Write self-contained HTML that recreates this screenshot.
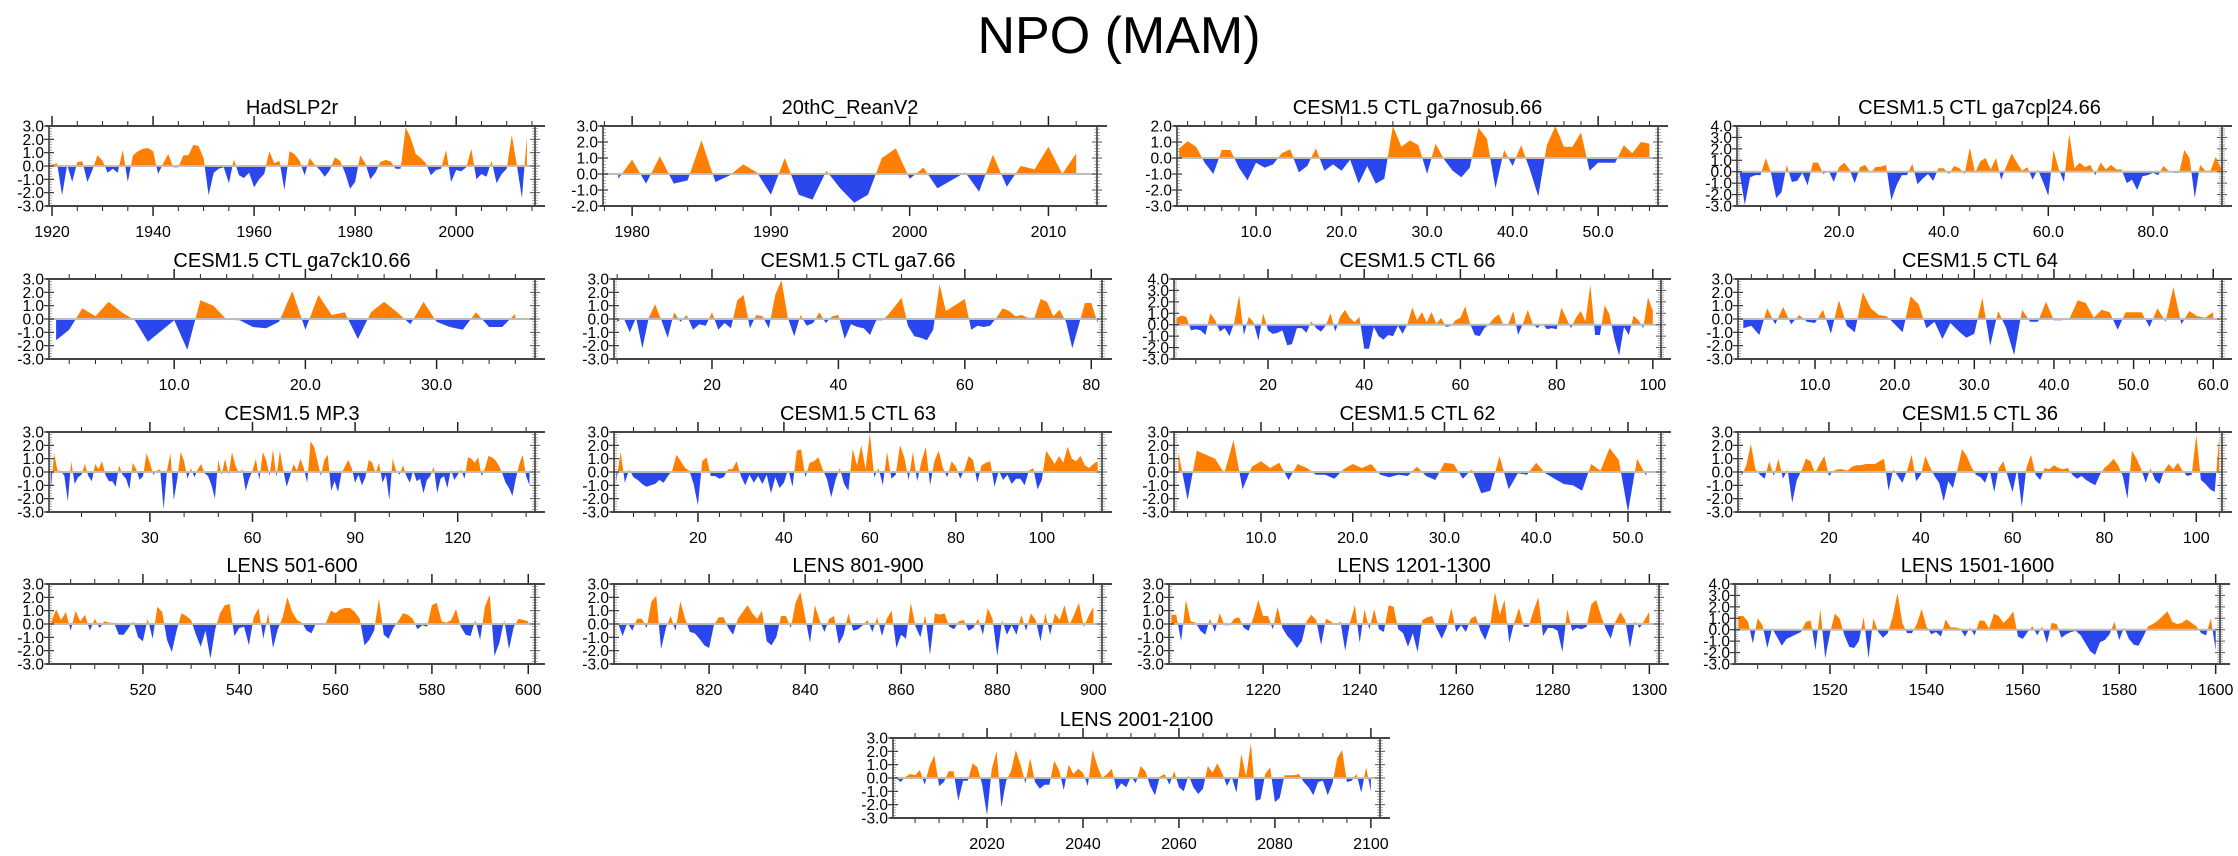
<!DOCTYPE html>
<html><head><meta charset="utf-8"><title>NPO (MAM)</title>
<style>
html,body{margin:0;padding:0;background:#fff;}
svg{display:block;font-family:"Liberation Sans",Arial,sans-serif;}
</style></head>
<body>
<svg id="fig" width="2238" height="856" viewBox="0 0 2238 856" xmlns="http://www.w3.org/2000/svg">
<text x="1119" y="53" text-anchor="middle" font-size="52" fill="#000">NPO (MAM)</text>
</svg>
<script>
// ---- data arrays (one per panel) ----
const hadslp2r = [0.1,0.2,-2.2,0.1,-1.2,0.3,0.35,-1.2,-0.3,0.8,0.4,-0.5,-0.2,-0.5,1.2,-1.2,0.8,1.1,1.3,1.35,1.1,-0.6,0.2,0.9,-0.1,-0.1,0.8,0.8,1.6,1.5,0.6,-2.2,-0.5,-0.2,-0.1,-1.3,0.5,-0.7,-0.9,-0.5,-1.6,-1.0,-0.6,1.1,0.2,0.4,-1.8,1.1,0.9,0.4,-0.7,0.6,0.1,-0.3,-0.8,-0.3,0.65,0.4,-0.5,-1.7,-1.2,0.8,0.2,-1.0,-0.5,0.3,0.45,0.35,-0.2,-0.2,2.9,2.1,0.9,0.6,0.2,-0.7,-0.3,-0.2,1.2,-1.2,-0.3,-0.4,-0.1,1.3,-1.0,-0.6,-0.8,0.4,-1.3,-0.6,-0.2,2.3,0.1,-2.4,2.2];
const reanv2 = [-0.3,0.9,-0.6,1.1,-0.6,-0.4,2.1,-0.5,-0.1,0.6,0.1,-1.3,1.0,-1.3,-1.6,0.2,-0.9,-1.8,-1.3,1.0,1.6,-0.3,0.4,-0.9,-0.4,0.1,-1.1,1.2,-0.8,0.5,0.3,1.7,0.0,1.3];
const ga7nosub = [0.6,1.05,0.7,-0.3,-1.0,0.5,0.5,-0.6,-1.4,-0.3,-0.6,-0.4,0.3,0.55,-0.9,-0.5,0.6,-0.8,-0.4,-0.8,-0.1,-1.6,-0.5,-1.6,-1.3,2.0,0.7,1.1,0.8,-1.0,0.9,-0.1,-0.8,-1.2,-0.6,1.9,1.2,-1.9,0.5,-0.5,0.8,-0.7,-2.4,0.8,2.0,0.7,0.7,1.6,-0.8,-0.3,-0.3,-0.3,0.8,0.3,1.0,0.9];
const ga7cpl24 = [-0.1,-2.9,-0.5,-0.3,-0.3,1.2,-0.1,-2.3,-1.8,0.6,-0.9,-0.8,-0.1,-1.2,0.8,0.8,-0.2,0.1,-0.9,0.4,0.8,0.2,-1.0,0.4,0.6,-0.1,0.4,0.45,0.6,-2.5,-1.2,-0.3,-0.3,0.7,-1.1,-0.6,-0.2,-0.8,0.3,0.3,-0.2,0.5,0.3,-0.2,2.1,-0.1,0.9,1.2,0.2,1.2,-0.7,0.5,1.6,0.8,0.1,0.4,-0.7,0.2,-0.9,-2.1,1.9,0.2,-0.9,3.3,0.3,0.8,0.4,0.6,-0.3,0.8,0.2,0.6,0.2,0.2,-1.0,-0.7,-1.6,-0.4,-0.3,-0.1,-0.3,0.5,0.1,-0.1,-0.1,1.9,1.2,-2.3,0.6,0.1,0.1,1.3,0.3];
const ga7ck10 = [-1.6,-0.8,0.8,0.2,1.3,0.5,-0.1,-1.7,-0.9,-0.1,-2.3,1.4,1.0,-0.05,-0.1,-0.6,-0.7,-0.2,2.1,-0.8,1.8,0.3,0.5,-1.5,0.5,1.3,0.5,-0.4,1.3,-0.2,-0.6,-0.8,0.5,-0.6,-0.6,0.4];
const ga7 = [-0.2,0.1,-1.0,0.1,-2.2,0.1,1.1,-0.1,-1.4,0.5,-0.2,0.3,-0.8,-0.4,-0.5,0.5,-0.8,-0.3,-0.7,1.4,1.8,-0.7,0.3,0.2,-0.7,1.8,2.9,0.1,-1.3,0.3,-0.5,-0.3,0.5,-0.3,0.2,0.3,-1.5,-0.4,-0.6,-0.7,-1.2,-0.1,-0.1,0.4,1.0,1.6,-0.5,-1.3,-1.4,-1.6,-0.8,2.6,0.6,0.9,1.2,1.5,-0.8,-0.5,-0.6,-0.5,0.1,0.8,0.6,0.2,0.3,0.1,0.1,1.5,1.3,0.2,0.7,-0.2,-2.2,-0.5,1.2,1.2,-0.3];
const ctl66 = [0.6,0.8,0.7,-0.5,-0.4,-0.5,-0.9,1.0,0.4,-0.6,-0.3,-1.0,0.2,2.6,-0.9,0.7,0.2,-1.4,1.0,-0.5,-0.8,-0.7,-0.5,-1.8,-1.7,-0.3,-0.3,-0.7,0.3,-0.3,-0.6,-0.1,1.0,-0.6,0.7,1.3,0.6,0.2,0.7,-2.1,-2.1,-0.2,-1.0,-1.3,-0.9,-1.0,-0.1,-0.8,0.1,1.5,0.4,1.1,0.2,1.1,0.1,0.6,-0.2,-0.1,0.4,0.6,1.6,0.1,-0.9,-1.0,-0.3,0.1,0.6,0.9,-0.1,0.1,1.2,-0.9,0.1,1.3,0.1,-0.3,0.1,-0.4,-0.3,-0.4,1.5,0.6,-0.3,0.6,1.2,0.3,3.5,-0.9,-0.9,1.7,0.9,-1.2,-2.7,-0.2,-0.9,0.8,0.4,-0.3,2.4,1.2];
const ctl64 = [-0.7,-0.5,-1.2,0.8,-0.4,0.9,-0.4,0.3,-0.2,-0.3,0.7,-1.1,1.4,-0.5,-1.0,2.0,0.8,0.3,0.2,-0.4,-1.0,1.7,1.1,-0.7,-0.2,-1.5,-0.3,-0.9,-1.4,-1.1,1.6,-2.0,0.6,-0.7,-2.7,0.7,-0.2,-0.2,1.3,-0.1,-0.1,0.1,1.4,1.2,0.1,0.7,0.5,-0.8,0.5,0.5,0.5,-0.6,0.8,-0.2,2.4,-0.4,0.6,0.2,0.1,0.5];
const mp3 = [-1.4,1.4,0.1,0.1,-0.3,-2.2,0.8,-0.9,-0.4,-0.2,0.6,-0.3,-0.7,0.6,0.2,0.8,-0.2,-0.7,-0.7,-1.1,0.5,-0.2,-0.5,-1.3,0.7,0.2,-0.6,-0.3,1.4,0.7,-0.2,0.1,0.2,-2.8,0.1,1.4,-2.1,-0.5,1.5,0.8,-0.5,0.3,-0.4,0.2,0.6,-0.1,-0.3,-1.0,-2.0,0.9,-0.2,1.0,-0.2,1.5,0.5,-0.1,0.2,-1.4,-0.5,0.1,1.0,-0.6,1.5,0.9,-0.3,1.7,-0.4,1.6,0.1,-1.1,-0.3,0.6,0.1,1.0,0.3,-0.8,2.3,1.9,0.8,-0.3,0.9,1.3,-1.4,-0.7,-1.5,-0.1,0.4,0.9,0.3,-0.8,-0.2,-1.0,-0.4,0.9,0.7,-0.1,0.7,-0.8,-0.2,-2.1,1.0,0.1,-0.2,0.5,-0.3,-0.8,0.1,-0.7,-0.5,-1.6,-0.6,-0.3,0.4,-1.6,-0.5,-0.3,-1.2,0.2,-0.6,-0.2,0.2,-0.5,1.1,1.0,0.7,1.1,-0.3,0.3,1.2,1.1,0.9,0.5,-0.1,-0.8,-1.2,-1.8,-0.5,0.6,1.3,-0.3,-1.0];
const ctl63 = [-0.7,1.5,-0.8,0.2,-0.4,-0.6,-0.9,-1.1,-1.0,-0.9,-0.6,-0.8,-0.3,0.1,1.3,0.8,0.3,0.1,-0.9,-2.5,0.8,1.1,-0.3,-0.3,-0.5,-0.4,0.2,0.2,0.8,-0.3,-1.0,-0.2,-0.8,-0.3,-0.9,-0.2,-1.6,-0.4,-1.2,-0.8,0.2,-1.1,1.6,1.7,-0.4,0.7,0.8,1.1,0.2,-0.5,-1.9,-0.6,0.3,-0.9,-1.4,1.7,0.5,2.0,0.2,2.9,-0.4,0.3,-1.0,1.5,-0.5,-0.2,2.0,1.1,-0.6,1.5,-0.7,0.8,1.9,-1.0,0.8,1.6,0.3,-0.4,0.8,0.4,-0.5,0.2,1.2,0.9,-0.8,0.5,0.7,0.8,-1.1,0.1,-0.6,-0.2,-0.9,-0.5,-0.5,-1.0,0.1,0.3,-1.3,-0.6,1.6,1.1,0.6,1.2,0.7,1.9,1.0,0.8,1.2,0.5,0.3,0.6,0.8];
const ctl62 = [1.5,-2.1,1.6,1.3,1.0,-0.1,2.4,-1.3,0.4,0.8,0.3,0.7,-0.6,0.6,0.3,-0.2,-0.2,-0.5,0.2,0.6,0.3,0.6,-0.2,-0.4,-0.2,-0.3,0.4,-0.3,-0.6,0.7,0.6,-0.5,0.2,-1.6,-1.4,1.2,-1.3,-0.1,-0.2,0.7,-0.1,-0.5,-0.9,-1.0,-1.4,0.6,0.1,1.8,0.9,-3.0,1.0,-0.3];
const ctl36 = [-0.3,0.5,2.1,0.2,-0.2,-0.5,0.8,-0.3,1.0,-0.5,0.2,-2.3,-0.6,0.1,1.0,0.8,-0.1,0.6,1.2,-0.3,0.1,0.2,0.2,0.1,0.4,0.5,0.5,0.6,0.6,0.6,0.8,1.0,-1.4,0.2,-0.3,-0.8,0.1,1.3,-0.7,-0.2,1.2,0.4,-0.3,-0.8,-2.2,-0.7,-1.2,0.2,1.7,1.2,0.4,-0.2,-0.4,-0.8,0.2,-1.5,0.3,0.8,-0.4,-1.5,0.2,-2.6,0.3,1.3,-0.2,-0.6,0.3,0.2,0.5,0.3,0.2,0.3,-0.2,-0.5,-0.3,-0.6,-0.8,-1.0,-0.2,0.3,0.6,1.0,0.5,-0.3,-2.0,1.6,1.0,0.2,-0.8,0.3,-0.6,-0.9,0.1,0.6,0.2,0.7,0.1,-0.3,-0.2,2.8,-0.6,-0.9,-1.3,-1.5,2.7];
const lens501 = [0.2,1.1,0.3,0.9,-0.5,1.0,0.2,0.7,-0.5,0.4,-0.3,0.2,0.1,0.1,-0.8,-0.8,-0.3,0.2,-1.0,-1.3,0.4,-1.1,1.3,0.9,-1.2,-2.1,-0.5,0.8,0.6,0.3,-0.8,-1.7,-0.5,-2.6,-0.4,0.8,1.4,1.5,-0.9,-0.3,-0.2,-1.6,0.5,1.2,-1.1,0.8,-1.8,-0.4,0.5,2.0,0.9,0.3,0.1,-0.5,-0.7,0.1,-0.1,0.1,1.0,0.8,1.1,1.2,1.2,0.9,0.4,-1.6,-1.2,-0.5,1.9,-0.8,-1.1,-0.3,0.2,0.8,0.7,0.4,-0.4,-0.1,-0.2,1.4,1.6,0.2,0.1,0.3,1.1,-0.2,-0.8,-0.9,0.3,-1.2,1.3,2.2,-2.4,-1.4,0.3,-1.9,-0.2,0.4,0.3,0.2];
const lens801 = [0.1,-0.9,0.1,-0.5,0.4,0.4,-0.3,1.7,2.1,-1.9,-0.3,0.6,-0.5,1.7,0.4,-0.6,-0.7,-1.1,-1.6,-1.8,-0.1,0.5,0.5,-0.3,-0.8,0.4,0.9,1.4,0.8,0.4,1.0,-1.3,-1.6,-1.0,0.6,0.6,-0.3,1.6,2.4,0.5,-1.4,1.4,0.3,-0.6,0.4,0.6,-1.5,-0.8,0.8,-0.5,-0.4,-0.1,0.3,-0.6,0.5,-0.9,0.4,1.0,-1.8,-0.8,-1.1,1.6,-0.2,-1.0,0.7,-2.3,0.8,0.7,0.8,-0.2,-0.4,0.2,0.3,-0.5,-0.3,0.4,-0.8,1.2,0.4,-2.4,0.3,-0.8,-0.1,-0.8,0.7,-0.5,0.8,0.3,-1.3,0.8,-0.8,0.8,0.3,1.4,-0.1,0.7,1.6,-0.2,0.6,1.3];
const lens1201 = [0.7,0.7,-1.3,1.8,0.2,0.1,-0.5,-0.8,0.4,-0.6,0.8,-0.1,-0.1,0.4,0.5,-0.3,-0.5,0.5,1.8,0.6,0.6,-0.4,1.3,-0.3,-0.9,-1.3,-1.8,-1.3,0.2,0.7,0.3,-1.6,0.4,0.2,-0.1,0.2,-2.0,0.1,1.4,-1.4,1.1,-0.4,1.1,-0.4,-0.6,1.4,1.3,-0.4,-0.7,-1.7,-0.7,-2.1,0.3,0.5,0.6,-0.4,-1.1,-0.3,1.2,-0.6,-0.1,-0.6,0.4,0.6,-0.5,-1.2,-0.2,2.4,0.7,1.8,-1.4,0.1,1.2,-0.2,-0.2,1.0,2.0,-0.9,-0.3,-0.3,-0.5,-2.1,1.1,-0.5,-0.3,-0.4,-0.2,1.5,1.8,0.6,-0.4,-1.1,0.2,0.9,0.3,-1.8,0.2,-0.3,0.3,0.9];
const lens1501 = [1.2,1.2,0.7,-1.2,1.0,0.4,-1.6,0.1,-0.6,-1.4,-0.8,-0.6,-0.4,-0.2,0.7,0.8,-1.8,1.8,-2.5,-0.3,1.4,1.0,-0.5,-1.5,-1.6,-1.0,1.1,-2.5,1.0,-0.2,-0.7,-0.3,1.1,3.2,0.6,-0.3,-0.3,0.5,1.8,0.3,-0.4,-0.2,-0.6,0.9,0.2,0.2,0.1,-0.6,0.2,-0.5,0.8,0.8,0.1,1.4,1.2,0.6,1.0,1.6,-0.6,-0.8,-0.2,0.3,-0.5,0.3,-1.2,0.6,0.5,-0.7,-0.4,-0.2,-0.1,-0.5,-1.2,-1.9,-2.2,-1.1,-0.9,-0.4,0.7,-0.9,0.2,-0.8,-1.3,-1.4,-0.6,0.3,0.5,0.8,1.2,1.6,0.7,0.5,0.6,0.9,0.6,0.3,-0.3,-0.5,1.0,-1.8];
const lens2001 = [0.0,-0.3,0.1,0.3,0.2,0.6,-0.5,0.9,1.7,-0.6,-0.3,0.5,0.5,-1.7,-0.2,-0.2,1.1,0.8,-0.5,-2.8,0.7,2.0,-2.2,-0.2,0.5,2.1,1.0,-0.4,1.5,-0.3,-0.8,-0.5,-0.5,1.3,0.6,-0.9,1.0,0.3,0.7,0.4,-0.6,2.1,0.9,0.0,0.3,0.7,-0.9,-0.4,-0.7,0.1,-0.4,0.9,0.5,-0.6,-1.3,0.1,0.3,-0.5,0.5,-0.7,-1.0,0.2,-0.7,-1.2,-0.8,0.9,0.4,1.1,0.4,-0.6,0.1,-1.1,1.8,0.1,2.6,-1.7,-1.6,0.3,0.8,-1.8,-1.5,0.2,0.2,0.2,0.3,-0.3,-0.7,-1.3,-0.3,-0.2,-1.3,-0.4,1.5,2.1,-0.3,-0.2,0.3,-1.1,0.8,-1.0];

// ---- panel titles and first x value ----
const titles = ["HadSLP2r","20thC_ReanV2","CESM1.5 CTL ga7nosub.66","CESM1.5 CTL ga7cpl24.66","CESM1.5 CTL ga7ck10.66","CESM1.5 CTL ga7.66","CESM1.5 CTL 66","CESM1.5 CTL 64","CESM1.5 MP.3","CESM1.5 CTL 63","CESM1.5 CTL 62","CESM1.5 CTL 36","LENS 501-600","LENS 801-900","LENS 1201-1300","LENS 1501-1600","LENS 2001-2100"];
const series = [hadslp2r,reanv2,ga7nosub,ga7cpl24,ga7ck10,ga7,ctl66,ctl64,mp3,ctl63,ctl62,ctl36,lens501,lens801,lens1201,lens1501,lens2001];
const startX = [1920,1979,1,1,1,5,1,1,1,1,1,1,501,801,1201,1501,2001];

// ---- layout (pixels) ----
const layout = [
 {l:49,t:126,w:486,xmin:1919.4,xmax:2015.6,maj:20,min:5,dec:0,ymin:-3,ymax:3},
 {l:603,t:126,w:494,xmin:1977.9,xmax:2013.5,maj:10,min:2,dec:0,ymin:-2,ymax:3},
 {l:1177,t:126,w:481,xmin:0.76,xmax:57,maj:10,min:2,dec:1,ymin:-3,ymax:2},
 {l:1737,t:126,w:485,xmin:0.5,xmax:93.2,maj:20,min:5,dec:1,ymin:-3,ymax:4},
 {l:49,t:279,w:486,xmin:0.46,xmax:37.5,maj:10,min:2,dec:1,ymin:-3,ymax:3},
 {l:614,t:279,w:488,xmin:4.5,xmax:81.7,maj:20,min:5,dec:0,ymin:-3,ymax:3},
 {l:1174,t:279,w:487,xmin:0.46,xmax:101.7,maj:20,min:5,dec:0,ymin:-3,ymax:4},
 {l:1738,t:279,w:484,xmin:0.33,xmax:61.1,maj:10,min:2,dec:1,ymin:-3,ymax:3},
 {l:49,t:432,w:486,xmin:0.5,xmax:142.6,maj:30,min:10,dec:0,ymin:-3,ymax:3},
 {l:614,t:432,w:488,xmin:0.47,xmax:114,maj:20,min:5,dec:0,ymin:-3,ymax:3},
 {l:1174,t:432,w:487,xmin:0.52,xmax:53.6,maj:10,min:2,dec:1,ymin:-3,ymax:3},
 {l:1738,t:432,w:484,xmin:0.2,xmax:105.6,maj:20,min:5,dec:0,ymin:-3,ymax:3},
 {l:49,t:584,w:486,xmin:500.5,xmax:601.4,maj:20,min:5,dec:0,ymin:-3,ymax:3},
 {l:614,t:584,w:488,xmin:800.2,xmax:901.8,maj:20,min:5,dec:0,ymin:-3,ymax:3},
 {l:1169,t:584,w:490,xmin:1200.5,xmax:1302,maj:20,min:5,dec:0,ymin:-3,ymax:3},
 {l:1735,t:584,w:485,xmin:1500.3,xmax:1600.9,maj:20,min:5,dec:0,ymin:-3,ymax:4},
 {l:893,t:738,w:487,xmin:2000.4,xmax:2101.9,maj:20,min:5,dec:0,ymin:-3,ymax:3}
];
const H = 80;
const NS = "http://www.w3.org/2000/svg";
const svg = document.getElementById('fig');
function mk(tag, attrs, parent){
  const e = document.createElementNS(NS, tag);
  for (const k in attrs) e.setAttribute(k, attrs[k]);
  parent.appendChild(e);
  return e;
}
layout.forEach((c, p) => {
  const data = series[p], x0 = startX[p];
  const g = mk('g', {}, svg);
  
  
  const sx = v => c.l + (v - c.xmin) / (c.xmax - c.xmin) * c.w;
  const sy = v => c.t + (c.ymax - v) / (c.ymax - c.ymin) * H;
  const y0 = sy(0), b = c.t + H, r = c.l + c.w;
  const tt = mk('text', {x: c.l + c.w/2, y: c.t - 12, 'text-anchor':'middle', 'font-size':20, fill:'#000'}, g);
  tt.textContent = titles[p];
  
  
  let pts = sx(x0).toFixed(1) + ',' + y0.toFixed(1) + ' ';
  data.forEach((v, i) => { pts += sx(x0+i).toFixed(1) + ',' + sy(v).toFixed(1) + ' '; });
  pts += sx(x0 + data.length - 1).toFixed(1) + ',' + y0.toFixed(1);
  const cidA = 'ca' + p, cidB = 'cb' + p;
  const defs = mk('defs', {}, g);
  const ca = mk('clipPath', {id: cidA}, defs); mk('rect', {x:c.l, y:c.t, width:c.w, height:y0 - c.t}, ca);
  const cb = mk('clipPath', {id: cidB}, defs); mk('rect', {x:c.l, y:y0, width:c.w, height:b - y0}, cb);
  const pos = mk('polygon', {points: pts, fill:'#ff8000', 'clip-path':'url(#'+cidA+')'}, g);
  
  
  const neg = mk('polygon', {points: pts, fill:'#2a47ee', 'clip-path':'url(#'+cidB+')'}, g);
  
  
  const zl = mk('line', {x1:c.l, x2:r, y1:y0, y2:y0, stroke:'#bdbdbd', 'stroke-width':2}, g);
  
  
  // y ticks (integer steps of 0.2)
  const nY = Math.round((c.ymax - c.ymin) * 5);
  for (let k = 0; k <= nY; k++) {
    const v = c.ymin + k * 0.2;
    const y = sy(v);
    const major = k % 5 === 0;
    if (major) {
      mk('line', {x1:c.l-5, x2:c.l+5, y1:y, y2:y, stroke:'#333', 'stroke-width':1.2}, g);
      mk('line', {x1:r-5, x2:r+5, y1:y, y2:y, stroke:'#555', 'stroke-width':1}, g);
      const lb = mk('text', {x:c.l-5, y:y+5.5, 'text-anchor':'end', 'font-size':15.5, fill:'#000'}, g);
      lb.textContent = Math.round(v).toFixed(1);
      
      
    } else {
      mk('line', {x1:c.l, x2:c.l+3, y1:y, y2:y, stroke:'#999', 'stroke-width':0.8}, g);
      mk('line', {x1:r-3, x2:r+3, y1:y, y2:y, stroke:'#999', 'stroke-width':0.8}, g);
    }
  }
  // x ticks
  const kStart = Math.ceil(c.xmin / c.min), kEnd = Math.floor(c.xmax / c.min);
  for (let k = kStart; k <= kEnd; k++) {
    const v = k * c.min;
    const x = sx(v);
    const major = v % c.maj === 0;
    const len = major ? 10 : 5;
    mk('line', {x1:x, x2:x, y1:c.t, y2:c.t-len, stroke:'#222', 'stroke-width':major?1.5:1}, g);
    mk('line', {x1:x, x2:x, y1:b, y2:b+len, stroke:'#222', 'stroke-width':major?1.5:1}, g);
    if (major) {
      const lb = mk('text', {x:x, y:b+31, 'text-anchor':'middle', 'font-size':16, fill:'#000'}, g);
      lb.textContent = v.toFixed(c.dec);
      
      
    }
  }
  const fr = mk('rect', {x:c.l, y:c.t, width:c.w, height:H, fill:'none', stroke:'#333', 'stroke-width':1.5}, g);
  
  
  mk('line', {x1:c.l-3, x2:r+10, y1:c.t, y2:c.t, stroke:'#444', 'stroke-width':2}, g);
  mk('line', {x1:c.l-3, x2:r+10, y1:b, y2:b, stroke:'#444', 'stroke-width':2}, g);
});
</script>
</body></html>
